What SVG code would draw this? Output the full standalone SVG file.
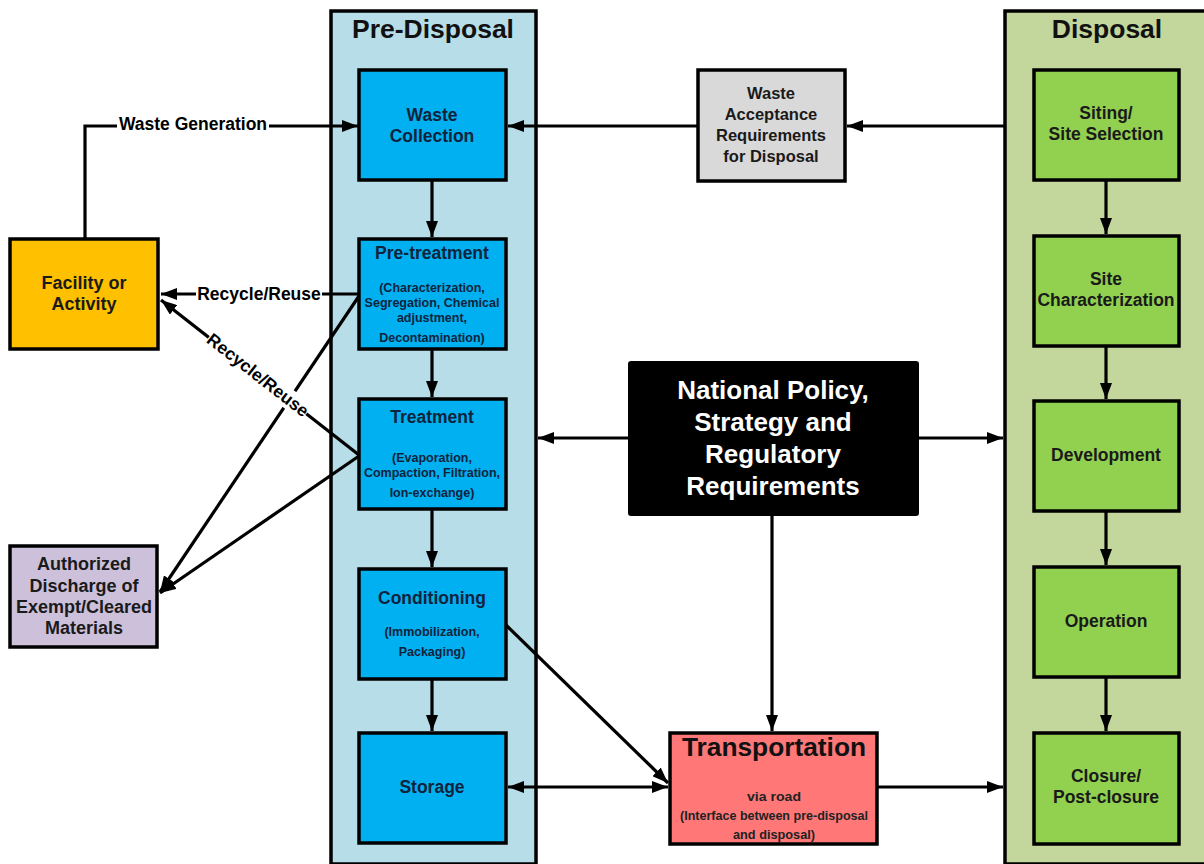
<svg xmlns="http://www.w3.org/2000/svg" width="1204" height="864" viewBox="0 0 1204 864">
<defs>
<marker id="ah" viewBox="0 0 16 12" refX="16" refY="6" markerWidth="16" markerHeight="12" markerUnits="userSpaceOnUse" orient="auto-start-reverse">
<path d="M0,0 L16,6 L0,12 z" fill="#000"/>
</marker>
<style>
text{font-family:"Liberation Sans",Arial,sans-serif;font-weight:bold;text-anchor:middle}
.box{stroke:#000;stroke-width:3.5}
.pd{fill:#00b0f0}
.dp{fill:#92d050}
.bt{fill:#10233d;font-size:17.5px}
.st{fill:#10233d;font-size:12.5px}
.dt{fill:#1a1a1a;font-size:17.5px}
.ot{fill:#1a1a1a;font-size:18px}
.gt{fill:#1a1a1a;font-size:16.5px}
.nt{fill:#fff;font-size:26px}
.ln{fill:none;stroke:#000;stroke-width:3.2}
.lbl{fill:#000;font-size:17.5px}
</style>
</defs>
<rect width="1204" height="864" fill="#fff"/>

<g id="predisposal-container">
<rect x="331" y="11" width="205" height="853" fill="#b7dde8" stroke="#000" stroke-width="3.5"/>
<text x="433" y="38" style="font-size:26.5px" fill="#111">Pre-Disposal</text>
</g>
<g id="disposal-container">
<rect x="1005" y="11" width="210" height="853" fill="#c3d69b" stroke="#000" stroke-width="3.5"/>
<text x="1107" y="38" style="font-size:26.5px" fill="#111">Disposal</text>
</g>

<g id="connectors">
<polyline class="ln" points="85,239 85,126 358,126" marker-end="url(#ah)"/>
<line class="ln" x1="432" y1="181" x2="432" y2="237" marker-end="url(#ah)"/>
<line class="ln" x1="432" y1="350" x2="432" y2="397" marker-end="url(#ah)"/>
<line class="ln" x1="432" y1="510" x2="432" y2="567" marker-end="url(#ah)"/>
<line class="ln" x1="432" y1="679" x2="432" y2="731" marker-end="url(#ah)"/>
<line class="ln" x1="697" y1="126" x2="508" y2="126" marker-end="url(#ah)"/>
<line class="ln" x1="1005" y1="126" x2="847" y2="126" marker-end="url(#ah)"/>
<line class="ln" x1="1106" y1="181" x2="1106" y2="234" marker-end="url(#ah)"/>
<line class="ln" x1="1106" y1="347" x2="1106" y2="399" marker-end="url(#ah)"/>
<line class="ln" x1="1106" y1="512" x2="1106" y2="565" marker-end="url(#ah)"/>
<line class="ln" x1="1106" y1="678" x2="1106" y2="731" marker-end="url(#ah)"/>
<line class="ln" x1="629" y1="438" x2="538" y2="438" marker-end="url(#ah)"/>
<line class="ln" x1="918" y1="438" x2="1003" y2="438" marker-end="url(#ah)"/>
<line class="ln" x1="772" y1="515" x2="772" y2="731" marker-end="url(#ah)"/>
<line class="ln" x1="508" y1="787" x2="668" y2="787" marker-start="url(#ah)" marker-end="url(#ah)"/>
<line class="ln" x1="877" y1="787" x2="1003" y2="787" marker-end="url(#ah)"/>
<line class="ln" x1="506" y1="625" x2="668" y2="783" marker-end="url(#ah)"/>
<line class="ln" x1="359" y1="294" x2="161" y2="294" marker-end="url(#ah)"/>
<line class="ln" x1="359" y1="455" x2="161" y2="300" marker-end="url(#ah)"/>
<line class="ln" x1="359" y1="296" x2="160" y2="592" marker-end="url(#ah)"/>
<line class="ln" x1="359" y1="456" x2="160" y2="593" marker-end="url(#ah)"/>
<rect x="117" y="114" width="152" height="22" fill="#fff"/>
<text class="lbl" x="193" y="130">Waste Generation</text>
<rect x="196" y="283" width="126" height="22" fill="#fff"/>
<text class="lbl" x="259" y="300">Recycle/Reuse</text>
<g transform="translate(258,375) rotate(38)">
<rect x="-62" y="-10" width="124" height="20" fill="#fff"/>
<text class="lbl" x="0" y="6">Recycle/Reuse</text>
</g>
</g>

<g id="waste-collection">
<rect class="box pd" x="359" y="70" width="147" height="110"/>
<text class="bt" x="432" y="121">Waste</text>
<text class="bt" x="432" y="142">Collection</text>
</g>
<g id="pre-treatment">
<rect class="box pd" x="359" y="239" width="147" height="110"/>
<text class="bt" x="432" y="259">Pre-treatment</text>
<text class="st" x="432" y="292">(Characterization,</text>
<text class="st" x="432" y="307">Segregation, Chemical</text>
<text class="st" x="432" y="322">adjustment,</text>
<text class="st" x="432" y="342">Decontamination)</text>
</g>
<g id="treatment">
<rect class="box pd" x="359" y="399" width="147" height="110"/>
<text class="bt" x="432" y="423">Treatment</text>
<text class="st" x="432" y="462">(Evaporation,</text>
<text class="st" x="432" y="477">Compaction, Filtration,</text>
<text class="st" x="432" y="497">Ion-exchange)</text>
</g>
<g id="conditioning">
<rect class="box pd" x="359" y="569" width="147" height="110"/>
<text class="bt" x="432" y="604">Conditioning</text>
<text class="st" x="432" y="636">(Immobilization,</text>
<text class="st" x="432" y="656">Packaging)</text>
</g>
<g id="storage">
<rect class="box pd" x="359" y="733" width="147" height="110"/>
<text class="bt" x="432" y="793">Storage</text>
</g>

<g id="facility">
<rect class="box" x="10" y="239" width="148" height="110" fill="#ffc000"/>
<text class="ot" x="84" y="289">Facility or</text>
<text class="ot" x="84" y="310">Activity</text>
</g>
<g id="authorized-discharge">
<rect class="box" x="10" y="546" width="147" height="101" fill="#ccc0da"/>
<text class="ot" x="84" y="570">Authorized</text>
<text class="ot" x="84" y="592">Discharge of</text>
<text class="ot" x="84" y="613">Exempt/Cleared</text>
<text class="ot" x="84" y="634">Materials</text>
</g>

<g id="waste-acceptance">
<rect class="box" x="698" y="70" width="147" height="111" fill="#d9d9d9"/>
<text class="gt" x="771" y="99">Waste</text>
<text class="gt" x="771" y="120">Acceptance</text>
<text class="gt" x="771" y="141">Requirements</text>
<text class="gt" x="771" y="162">for Disposal</text>
</g>

<g id="national-policy">
<rect x="629" y="362" width="289" height="153" rx="2" fill="#000" stroke="#000" stroke-width="2"/>
<text class="nt" x="773" y="399">National Policy,</text>
<text class="nt" x="773" y="431">Strategy and</text>
<text class="nt" x="773" y="463">Regulatory</text>
<text class="nt" x="773" y="495">Requirements</text>
</g>

<g id="transportation">
<rect class="box" x="670" y="733" width="207" height="111" fill="#ff7777"/>
<text x="774" y="756" fill="#111" style="font-size:26px" textLength="184" lengthAdjust="spacingAndGlyphs">Transportation</text>
<text x="774" y="801" fill="#222" style="font-size:13px" textLength="54" lengthAdjust="spacingAndGlyphs">via road</text>
<text x="774" y="820" fill="#222" style="font-size:13px" textLength="188" lengthAdjust="spacingAndGlyphs">(Interface between pre-disposal</text>
<text x="774" y="839" fill="#222" style="font-size:13px" textLength="82" lengthAdjust="spacingAndGlyphs">and disposal)</text>
</g>

<g id="siting">
<rect class="box dp" x="1034" y="70" width="145" height="110"/>
<text class="dt" x="1106" y="119">Siting/</text>
<text class="dt" x="1106" y="140">Site Selection</text>
</g>
<g id="site-characterization">
<rect class="box dp" x="1034" y="236" width="145" height="110"/>
<text class="dt" x="1106" y="285">Site</text>
<text class="dt" x="1106" y="306">Characterization</text>
</g>
<g id="development">
<rect class="box dp" x="1034" y="401" width="145" height="110"/>
<text class="dt" x="1106" y="461">Development</text>
</g>
<g id="operation">
<rect class="box dp" x="1034" y="567" width="145" height="110"/>
<text class="dt" x="1106" y="627">Operation</text>
</g>
<g id="closure">
<rect class="box dp" x="1034" y="733" width="145" height="111"/>
<text class="dt" x="1106" y="782">Closure/</text>
<text class="dt" x="1106" y="803">Post-closure</text>
</g>
</svg>
